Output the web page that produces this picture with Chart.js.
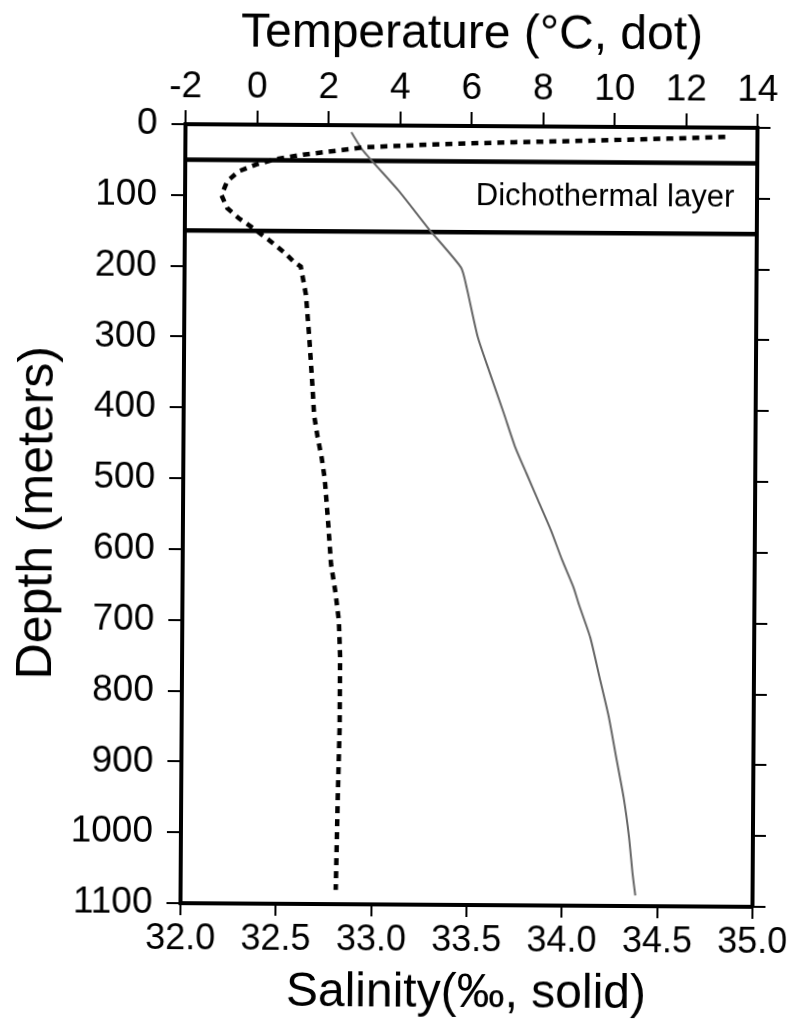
<!DOCTYPE html>
<html>
<head>
<meta charset="utf-8">
<script src="https://cdn.jsdelivr.net/npm/chart.js@4.4.1/dist/chart.umd.min.js"></script>
<style>
  html, body { margin: 0; padding: 0; background: #fff; overflow: hidden; }
  #wrap { width: 789px; height: 1030px; }
  /* the scanned figure sits a little crooked */
  #profile { transform: rotate(0.37deg); transform-origin: 468px 514px; }
</style>
</head>
<body>
<div id="wrap"><canvas id="profile" width="789" height="1030"></canvas></div>
<script>
// ===== Temperature / salinity profile =====
const tempDepth = [13, 16, 19.5, 22.5, 26, 31, 35, 42, 49, 56, 66, 80, 100, 118, 132, 147, 163, 180, 193, 200,
  240, 300, 370, 410, 440, 470, 500, 560, 620, 660, 700, 750, 850, 950, 1080];
const tempValue = [13.1, 11.5, 9.4, 7.2, 5.1, 3.0, 2.4, 1.3, 0.5, 0.0, -0.5, -0.82, -0.98, -0.82, -0.5, -0.07, 0.36, 0.78, 1.05, 1.25,
  1.4, 1.5, 1.6, 1.65, 1.75, 1.87, 1.96, 2.06, 2.15, 2.28, 2.38, 2.42, 2.42, 2.38, 2.34];

const salDepth = [10, 35, 92, 146, 200, 228, 298, 345, 406, 453, 490, 527, 570, 612, 650, 675, 721, 777, 833, 890, 946, 1002, 1054, 1085];
const salValue = [32.87, 32.93, 33.12, 33.28, 33.45, 33.48, 33.54, 33.6, 33.68, 33.74, 33.8, 33.86, 33.93, 33.99, 34.05, 34.08, 34.14, 34.19, 34.24, 34.28, 34.32, 34.35, 34.37, 34.385];

const layerDepths = [50, 150];          // dichothermal layer bounds (m)
const layerLabel = 'Dichothermal layer';
const layerLabelAt = { temp: 9.75, depth: 100 };

const salRange = [32, 35];
const tempRange = [-2, 14];
const depthRange = [0, 1100];

const FONT = "'Liberation Sans', Arial, Helvetica, sans-serif";

const toPoints = (xs, ys) => xs.map((v, i) => ({ x: v, y: ys[i] }));

const layerSets = layerDepths.map((d) => ({
  label: 'layer ' + d,
  data: salRange.map((s) => ({ x: s, y: d })),
  xAxisID: 'x',
  borderColor: '#000',
  borderWidth: 4.5,
  pointRadius: 0,
  showLine: true,
}));

const layerText = {
  id: 'layerText',
  afterDatasetsDraw(chart) {
    const { ctx, scales: { xT, y } } = chart;
    ctx.save();
    ctx.fillStyle = '#000';
    ctx.font = `31px ${FONT}`;
    ctx.textAlign = 'center';
    ctx.textBaseline = 'middle';
    ctx.fillText(layerLabel, xT.getPixelForValue(layerLabelAt.temp), y.getPixelForValue(layerLabelAt.depth));
    ctx.restore();
  },
};

const tickGrid = (len) => ({
  drawOnChartArea: false,
  drawTicks: true,
  tickLength: len,
  color: '#000',
  lineWidth: 2,
});
const axisBorder = { display: true, color: '#000', width: 4 };
// fixed box sizes, and no extra room for the end labels
const fixSize = (prop, size) => (scale) => {
  scale[prop] = size;
  scale.paddingLeft = scale.paddingRight = 0;
  scale.paddingTop = scale.paddingBottom = 0;
};

new Chart(document.getElementById('profile').getContext('2d'), {
  type: 'scatter',
  data: {
    datasets: [
      {
        label: 'Temperature',
        data: toPoints(tempValue, tempDepth),
        xAxisID: 'xT',
        borderColor: '#000',
        borderWidth: 4.5,
        borderDash: [7, 6],
        pointRadius: 0,
        showLine: true,
      },
      {
        label: 'Salinity',
        data: toPoints(salValue, salDepth),
        xAxisID: 'x',
        borderColor: '#666',
        borderWidth: 2,
        tension: 0.2,
        pointRadius: 0,
        showLine: true,
      },
      ...layerSets,
    ],
  },
  options: {
    responsive: false,
    animation: false,
    layout: { padding: 0 },
    scales: {
      x: {
        type: 'linear',
        position: 'bottom',
        min: salRange[0],
        max: salRange[1],
        afterFit: fixSize('height', 125),
        ticks: {
          stepSize: 0.5,
          color: '#000',
          padding: 2,
          font: { family: FONT, size: 36 },
          callback: (v) => v.toFixed(1),
        },
        grid: tickGrid(12),
        border: axisBorder,
        title: {
          display: true,
          text: 'Salinity(‰, solid)',
          color: '#000',
          font: { family: FONT, size: 48 },
          padding: { top: 0, bottom: 7 },
        },
      },
      xT: {
        type: 'linear',
        position: 'top',
        min: tempRange[0],
        max: tempRange[1],
        afterFit: fixSize('height', 126),
        ticks: {
          stepSize: 2,
          color: '#000',
          padding: 1,
          font: { family: FONT, size: 37 },
        },
        grid: tickGrid(14),
        border: axisBorder,
        title: {
          display: true,
          text: 'Temperature (°C, dot)',
          color: '#000',
          font: { family: FONT, size: 48 },
          padding: { top: 6, bottom: 0 },
        },
      },
      y: {
        type: 'linear',
        position: 'left',
        reverse: true,
        min: depthRange[0],
        max: depthRange[1],
        afterFit: fixSize('width', 183),
        ticks: {
          stepSize: 100,
          color: '#000',
          padding: 14,
          font: { family: FONT, size: 37 },
          callback: (v) => String(v),
        },
        grid: tickGrid(14),
        border: axisBorder,
        title: {
          display: true,
          text: 'Depth (meters)',
          color: '#000',
          font: { family: FONT, size: 50 },
          padding: { top: 8, bottom: 0 },
        },
      },
      yR: {
        type: 'linear',
        position: 'right',
        reverse: true,
        min: depthRange[0],
        max: depthRange[1],
        afterFit: fixSize('width', 34),
        ticks: { stepSize: 100, display: false },
        grid: tickGrid(13),
        border: axisBorder,
      },
    },
    plugins: {
      legend: { display: false },
      tooltip: { enabled: false },
    },
  },
  plugins: [layerText],
});
</script>
</body>
</html>
